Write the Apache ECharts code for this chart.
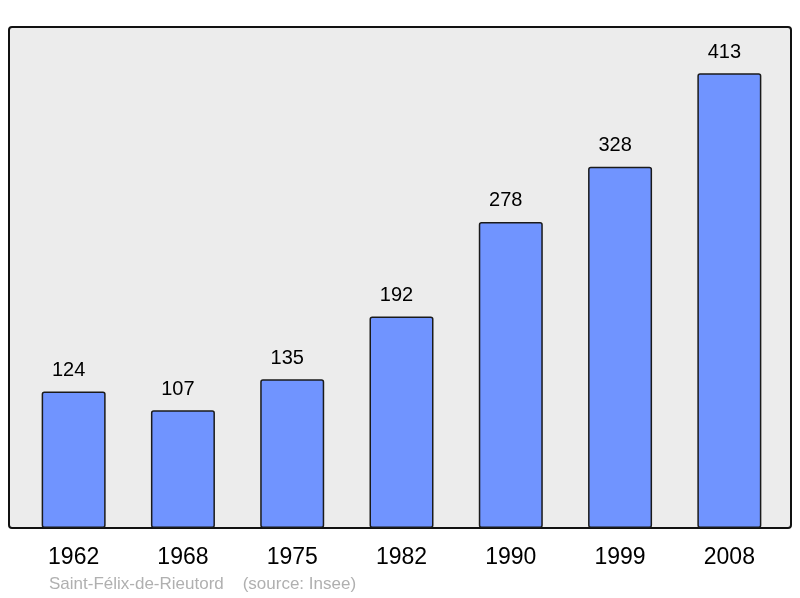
<!DOCTYPE html>
<html>
<head>
<meta charset="utf-8">
<script src="https://cdn.jsdelivr.net/npm/echarts@6/dist/echarts.min.js"></script>
<style>
  html, body { margin: 0; padding: 0; background: #fff; }
  #chart { width: 800px; height: 598px; }
</style>
</head>
<body>
<div id="chart"></div>
<script>
// population par recensement
var years = ["1962", "1968", "1975", "1982", "1990", "1999", "2008"];
var population = [124, 107, 135, 192, 278, 328, 413];
var footer = "Saint-Félix-de-Rieutord    (source: Insee)";

var chart = echarts.init(document.getElementById('chart'));

var option = {
    animation: false,
    textStyle: { fontFamily: "Liberation Sans, Arial, sans-serif" },
    graphic: [
        {
            type: 'rect',
            z: -10,
            shape: { x: 9, y: 27, width: 782, height: 501, r: 3 },
            style: { fill: '#ececec', stroke: '#111', lineWidth: 2 }
        },
        {
            type: 'text',
            left: 49,
            top: 576,
            style: {
                text: footer,
                fill: '#b0b0b0',
                font: '17px "Liberation Sans", Arial, sans-serif'
            }
        }
    ],
    grid: { left: 19, width: 765, top: 27, bottom: 70 },
    xAxis: {
        type: 'category',
        data: years,
        axisLine: { show: false },
        axisTick: { show: false },
        axisLabel: { color: '#000', fontSize: 23, margin: 18 }
    },
    yAxis: {
        type: 'value',
        min: 0,
        max: 455,
        show: false,
        splitLine: { show: false }
    },
    series: [{
        type: 'bar',
        data: population,
        barWidth: 64,
        itemStyle: {
            color: '#7094ff',
            borderColor: '#1a1a1a',
            borderWidth: 1.5,
            borderRadius: 2
        },
        label: {
            show: true,
            position: 'top',
            distance: 11,
            offset: [-5, 0],
            color: '#000',
            fontSize: 20
        }
    }]
};

chart.setOption(option);
</script>
</body>
</html>
